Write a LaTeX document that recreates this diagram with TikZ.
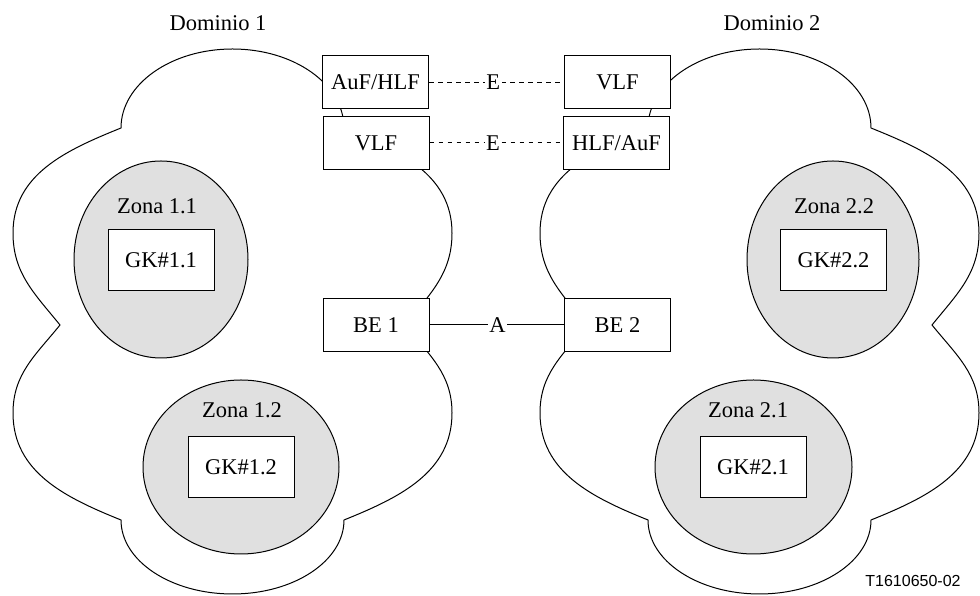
\documentclass[tikz,border=0pt]{standalone}
\usepackage{fontspec}
\setmainfont{Liberation Serif}
\newfontfamily\arialfont{Liberation Sans}
\usetikzlibrary{shapes.geometric}
\tikzset{
  cloudline/.style={draw=black, line width=1pt},
  cloud/.pic={
    \draw[cloudline] (121,468) arc[start angle=180,end angle=0,x radius=111.5,y radius=79]
      to[out=338,in=90] (452,363) to[out=270,in=51] (405,271)
      to[out=309,in=90] (452,183) to[out=270,in=22] (344,76)
      arc[start angle=0,end angle=-180,x radius=111.5,y radius=74]
      to[out=158,in=270] (13,183) to[out=90,in=231] (60,271)
      to[out=129,in=270] (13,363) to[out=90,in=202] cycle;
  },
  zone/.style={ellipse, draw=black, line width=1pt, fill=black!12, inner sep=0pt},
  box/.style={rectangle, draw=black, line width=1pt, fill=white, inner sep=0pt,
    minimum width=106pt, minimum height=53pt, font=\fontsize{22.5}{26}\selectfont},
  gkbox/.style={box, minimum height=61pt},
  lbl/.style={inner sep=0pt, font=\fontsize{22.5}{26}\selectfont},
  link/.style={line width=1pt},
  elink/.style={line width=1pt, dash pattern=on 4.5pt off 4.5pt},
  mid/.style={fill=white, inner sep=1.5pt, font=\fontsize{22.5}{26}\selectfont}
}
\begin{document}
\begin{tikzpicture}[x=1pt,y=1pt]
\useasboundingbox (0,0) rectangle (980,596);
% clouds
\pic at (0,0) {cloud};
\pic at (527,0) {cloud};
% zones
\node[zone, minimum width=174pt, minimum height=197pt] (z11) at (161,336.5) {};
\node[zone, minimum width=196pt, minimum height=174pt] (z12) at (241,129) {};
\node[zone, minimum width=172pt, minimum height=197pt] (z22) at (833,336.5) {};
\node[zone, minimum width=197pt, minimum height=174pt] (z21) at (753.5,129) {};
\node[lbl] (z11l) at (157,390) {Zona 1.1};
\node[lbl] (z12l) at (242,186) {Zona 1.2};
\node[lbl] (z22l) at (834,390) {Zona 2.2};
\node[lbl] (z21l) at (748,186) {Zona 2.1};
\node[gkbox] (gk11) at (161,336) {GK\#1.1};
\node[gkbox] (gk12) at (241,128.5) {GK\#1.2};
\node[gkbox] (gk22) at (833.5,336) {GK\#2.2};
\node[gkbox] (gk21) at (753,128.5) {GK\#2.1};
% function boxes
\node[box] (auf1) at (375.5,513.5) {AuF/HLF};
\node[box] (vlf1) at (376,453) {VLF};
\node[box] (be1) at (376,271) {BE 1};
\node[box] (vlf2) at (617.5,513.5) {VLF};
\node[box] (hlf2) at (616.5,453) {HLF/AuF};
\node[box] (be2) at (617.5,271) {BE 2};
% connectors
\draw[elink] (auf1.east) -- node[mid, pos=0.475] (e1) {E} (vlf2.west);
\draw[elink] (vlf1.east) -- node[mid, pos=0.475] (e2) {E} (hlf2.west);
\draw[link] (be1.east) -- node[mid, pos=0.505] (a) {A} (be2.west);
% titles
\node[lbl] (d1) at (218,573) {Dominio 1};
\node[lbl] (d2) at (772,573) {Dominio 2};
\node[inner sep=0pt, font=\arialfont\fontsize{16}{19}\selectfont] (ref) at (913,15) {T1610650-02};
\end{tikzpicture}
\end{document}
